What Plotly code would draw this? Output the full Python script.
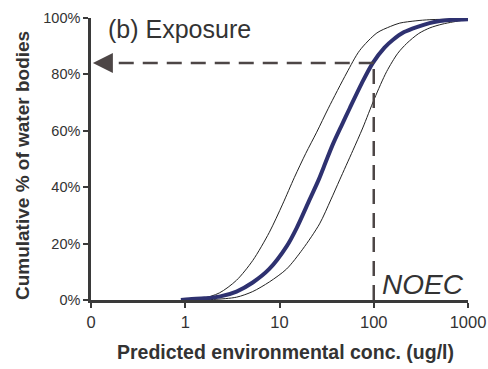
import plotly.graph_objects as go

# Data (concentration ug/l, cumulative %)
central_conc = [0.9, 1.1, 1.6, 2.3, 3.5, 5.2, 7.8, 11.9, 15.2, 20.8, 26, 31, 36.6, 45, 55.6, 75, 97.5, 130, 159, 210, 286, 390, 502, 700, 1000]
central_pct = [0, 0.3, 0.6, 1.2, 3, 6.2, 11, 19, 25.5, 35.5, 42.6, 49, 55, 61.5, 68, 77, 84, 89.5, 92.2, 95, 96.8, 98.2, 98.9, 99.4, 99.6]

lower_conc = [0.9, 1.5, 2.3, 3.5, 5.2, 7.8, 10.8, 14.4, 19, 24.8, 33, 51.6, 71, 108, 150, 189, 280, 394, 1000]
lower_pct = [0, 0.5, 2.5, 7, 14, 24, 34, 43.5, 52, 59.5, 68, 80.5, 88.5, 94.7, 97, 98.2, 99, 99.4, 99.7]

upper_conc = [1.2, 2.0, 3.5, 5.2, 7.8, 11.9, 17.6, 26.6, 35, 43.5, 60, 76.4, 102, 137, 180, 224, 300, 394, 530, 692, 1000]
upper_pct = [0, 0.2, 1, 3, 6.4, 11, 18, 27, 35.5, 42.6, 53, 61, 71.5, 81, 87.5, 91, 94.5, 96.5, 97.8, 98.6, 99.5]

noec_value = 100
noec_pct = 84

x_tickvals = [0.1, 1, 10, 100, 1000]
x_ticktext = ["0", "1", "10", "100", "1000"]
y_tickvals = [0, 20, 40, 60, 80, 100]
y_ticktext = ["0%", "20%", "40%", "60%", "80%", "100%"]

FONT = "Liberation Sans, Arial, sans-serif"
DARK = "#333333"
DASH = "#4d4646"

fig = go.Figure()
fig.add_trace(go.Scatter(x=lower_conc, y=lower_pct, mode="lines",
                         line=dict(color="#222222", width=1, shape="spline", smoothing=0.8), showlegend=False))
fig.add_trace(go.Scatter(x=upper_conc, y=upper_pct, mode="lines",
                         line=dict(color="#222222", width=1, shape="spline", smoothing=0.8), showlegend=False))
fig.add_trace(go.Scatter(x=central_conc, y=central_pct, mode="lines",
                         line=dict(color="#2e3170", width=4, shape="spline", smoothing=0.8), showlegend=False))

# dashed NOEC guide lines
fig.add_trace(go.Scatter(x=[noec_value, noec_value], y=[0, noec_pct], mode="lines",
                         line=dict(color=DASH, width=2.5, dash="15px,9px"), showlegend=False))
fig.add_trace(go.Scatter(x=[noec_value, 0.13], y=[noec_pct, noec_pct], mode="lines",
                         line=dict(color=DASH, width=2.5, dash="15px,9px"), showlegend=False))

fig.add_annotation(x=-0.98, y=noec_pct, ax=-0.78, ay=noec_pct, axref="x", ayref="y",
                   xref="x", yref="y", text="", showarrow=True,
                   arrowhead=2, arrowsize=1.6, arrowwidth=2.5, arrowcolor=DASH)

fig.add_annotation(x=0.04, xref="paper", y=0.962, yref="paper", text="(b) Exposure",
                   showarrow=False, xanchor="left", yanchor="middle",
                   font=dict(family=FONT, size=25, color=DARK))
fig.add_annotation(x=0.995, xref="paper", y=0.055, yref="paper", text="<i>NOEC</i>",
                   showarrow=False, xanchor="right", yanchor="middle",
                   font=dict(family=FONT, size=28, color=DARK))

# axis titles
fig.add_annotation(x=0.517, xref="paper", y=-0.185, yref="paper",
                   text="<b>Predicted environmental conc. (ug/l)</b>", showarrow=False,
                   xanchor="center", yanchor="middle",
                   font=dict(family=FONT, size=19.5, color=DARK))
fig.add_annotation(x=-0.183, xref="paper", y=0.475, yref="paper",
                   text="<b>Cumulative % of water bodies</b>", showarrow=False, textangle=-90,
                   xanchor="center", yanchor="middle",
                   font=dict(family=FONT, size=19, color=DARK))

fig.update_xaxes(type="log", range=[-1, 3], tickvals=x_tickvals, ticktext=x_ticktext,
                 showgrid=False, zeroline=False, showline=True, linewidth=2.5, linecolor="#3a3a3a",
                 ticks="outside", ticklen=5, tickwidth=2, tickcolor="#3a3a3a", automargin=False,
                 tickfont=dict(family=FONT, size=16.5, color=DARK))
fig.update_yaxes(range=[0, 100], tickvals=y_tickvals, ticktext=y_ticktext,
                 showgrid=False, zeroline=False, showline=True, linewidth=2.5, linecolor="#3a3a3a",
                 ticks="outside", ticklen=5, tickwidth=2, tickcolor="#3a3a3a", automargin=False,
                 tickfont=dict(family=FONT, size=14.5, color=DARK))

fig.update_layout(width=488, height=369, margin=dict(l=91, r=20, t=18, b=69),
                  plot_bgcolor="white", paper_bgcolor="white")

fig.write_html("out.html")
